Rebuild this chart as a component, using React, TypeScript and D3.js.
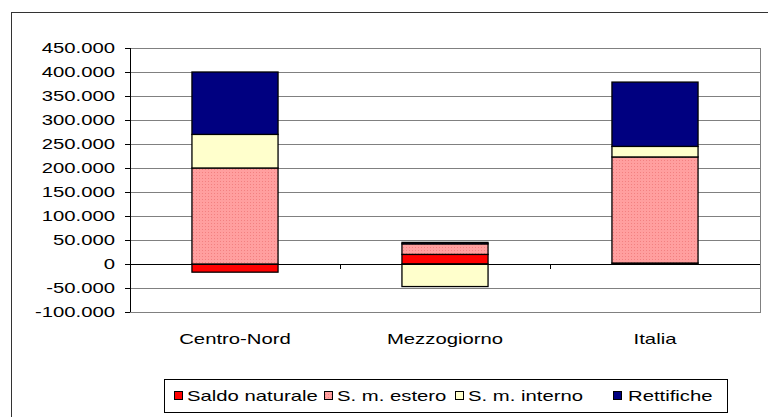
import React from "react";
import * as d3 from "d3";

const categories = ["Centro-Nord", "Mezzogiorno", "Italia"];
const seriesNames = ["Saldo naturale", "S. m. estero", "S. m. interno", "Rettifiche"];
const saldoNaturale = [-17000, 20000, 2000];
const smEstero = [200000, 22000, 221000];
const smInterno = [70000, -47000, 22000];
const rettifiche = [130000, 3000, 134000];
const yTicks = [-100000, -50000, 0, 50000, 100000, 150000, 200000, 250000, 300000, 350000, 400000, 450000];
const colors = ["#FF0000", "url(#dots)", "#FFFFCC", "#000080"];

const W = 768;
const H = 417;
const plot = { left: 130, right: 760, top: 48, bottom: 312 };
const FS = 14.5;
const SX = 1.4;

const fmtTick = (v: number) => {
  if (v === 0) return "0";
  const sign = v < 0 ? "-" : "";
  return sign + d3.format(",")(Math.abs(v)).replace(/,/g, ".");
};

function T(props: { x: number; y: number; anchor?: string; children: React.ReactNode }) {
  return (
    <text
      transform={`translate(${props.x},${props.y}) scale(${SX},1)`}
      dy="0.35em"
      textAnchor={props.anchor || "start"}
      fontSize={FS}
      fill="#000"
    >
      {props.children}
    </text>
  );
}

export default function App() {
  const rows = categories.map((c, i) => ({
    cat: c,
    s0: saldoNaturale[i],
    s1: smEstero[i],
    s2: smInterno[i],
    s3: rettifiche[i],
  }));
  const keys = ["s0", "s1", "s2", "s3"];
  const stacked = d3.stack<any>().keys(keys).offset(d3.stackOffsetDiverging)(rows);

  const x = d3.scaleBand().domain(categories).range([plot.left, plot.right]).paddingInner(0.59).paddingOuter(0.295);
  const xc = d3.scaleBand().domain(categories).range([plot.left, plot.right]);
  const y = d3.scaleLinear().domain([-100000, 450000]).range([plot.bottom, plot.top]);

  const font = "'Liberation Sans', Arial, sans-serif";

  const legendSquareX = [174, 324, 455, 613];
  const legendTextX = [187, 337, 468, 628];

  return (
    <svg width={W} height={H} style={{ position: "absolute", left: 0, top: 0, background: "#fff" }} fontFamily={font}>
      <defs>
        <pattern id="dots" width="3" height="3" patternUnits="userSpaceOnUse">
          <rect width="3" height="3" fill="#FF9F9F" />
          <rect x="1" y="1" width="1" height="1" fill="#F28080" />
        </pattern>
      </defs>
      <rect x={0} y={0} width={W} height={H} fill="#fff" />
      <rect x={11.5} y={12.5} width={W + 10} height={H + 10} fill="#fff" stroke="#333" strokeWidth={1} />
      {yTicks.map((t) => (
        <line key={t} x1={plot.left} x2={plot.right} y1={Math.round(y(t)) + 0.5} y2={Math.round(y(t)) + 0.5} stroke="#808080" strokeWidth={1} />
      ))}
      <rect
        x={plot.left + 0.5}
        y={Math.round(y(450000)) + 0.5}
        width={plot.right - plot.left}
        height={Math.round(y(-100000)) - Math.round(y(450000))}
        fill="none"
        stroke="#808080"
        strokeWidth={1}
      />
      {stacked.map((layer, si) =>
        layer.map((d, ci) => {
          const y0 = y(d[0]);
          const y1 = y(d[1]);
          if (Math.abs(y0 - y1) < 0.01) return null;
          return (
            <rect
              key={si + "-" + ci}
              x={x(categories[ci])!}
              y={Math.min(y0, y1)}
              width={x.bandwidth()}
              height={Math.abs(y0 - y1)}
              fill={colors[si]}
              stroke="#000"
              strokeWidth={1.3}
            />
          );
        })
      )}
      <line x1={plot.left + 0.5} x2={plot.left + 0.5} y1={y(450000)} y2={y(-100000)} stroke="#000" />
      {yTicks.map((t) => (
        <g key={"t" + t}>
          <line x1={plot.left - 5} x2={plot.left} y1={Math.round(y(t)) + 0.5} y2={Math.round(y(t)) + 0.5} stroke="#000" />
          <T x={115} y={y(t)} anchor="end">
            {fmtTick(t)}
          </T>
        </g>
      ))}
      <line x1={plot.left} x2={plot.right} y1={Math.round(y(0)) + 0.5} y2={Math.round(y(0)) + 0.5} stroke="#000" />
      {categories.map((c, i) => (
        <g key={"c" + c}>
          {i > 0 && <line x1={Math.round(xc(c)!) + 0.5} x2={Math.round(xc(c)!) + 0.5} y1={y(0)} y2={y(0) + 5} stroke="#000" />}
          <T x={xc(c)! + xc.bandwidth() / 2} y={339} anchor="middle">
            {c}
          </T>
        </g>
      ))}
      <rect x={164.5} y={379.5} width={563} height={33} fill="#fff" stroke="#000" />
      {seriesNames.map((n, i) => (
        <g key={n}>
          <rect x={legendSquareX[i] + 0.5} y={391.5} width={8} height={8} fill={colors[i]} stroke="#000" />
          <T x={legendTextX[i]} y={395.5}>
            {n}
          </T>
        </g>
      ))}
    </svg>
  );
}
